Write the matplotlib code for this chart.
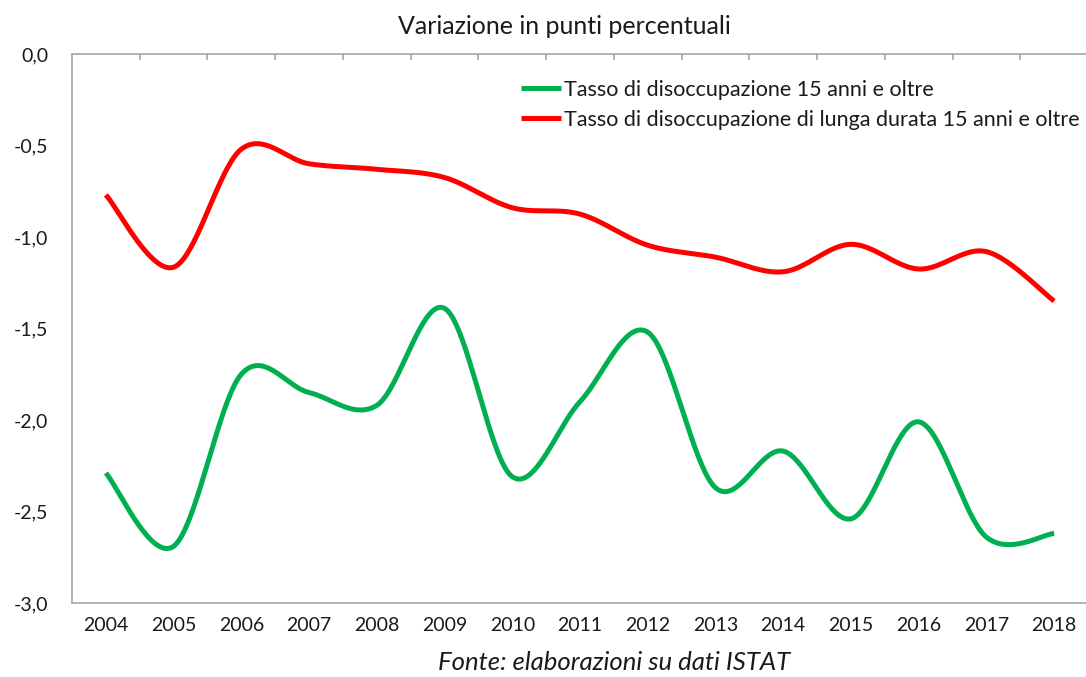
import numpy as np
import matplotlib
matplotlib.use("Agg")
import matplotlib.pyplot as plt
from matplotlib.ticker import FuncFormatter, FixedLocator

years = [2004, 2005, 2006, 2007, 2008, 2009, 2010, 2011, 2012, 2013, 2014, 2015, 2016, 2017, 2018]
tasso_disocc = [-2.29, -2.69, -1.75, -1.85, -1.92, -1.39, -2.31, -1.90, -1.52, -2.37, -2.17, -2.54, -2.01, -2.64, -2.62]
tasso_lunga = [-0.77, -1.165, -0.52, -0.60, -0.63, -0.675, -0.84, -0.875, -1.045, -1.11, -1.19, -1.04, -1.175, -1.08, -1.35]
labels = ["Tasso di disoccupazione 15 anni e oltre",
          "Tasso di disoccupazione di lunga durata 15 anni e oltre"]
title = "Variazione in punti percentuali"
source = "Fonte: elaborazioni su dati ISTAT"

FONT = ["Lato", "DejaVu Sans"]
plt.rcParams['font.family'] = FONT
TXT = "#1a1a1a"


def smooth(x, y, n=40):
    """Excel-like smoothed line (cubic Bezier through each point)."""
    x = np.asarray(x, float)
    y = np.asarray(y, float)
    px = np.concatenate([[x[0]], x, [x[-1]]])
    py = np.concatenate([[y[0]], y, [y[-1]]])
    xs, ys = [], []
    t = np.linspace(0, 1, n)[:, None]
    for i in range(1, len(px) - 2):
        p0 = np.array([px[i], py[i]])
        p3 = np.array([px[i + 1], py[i + 1]])
        p1 = p0 + (np.array([px[i + 1], py[i + 1]]) - np.array([px[i - 1], py[i - 1]])) / 6
        p2 = p3 - (np.array([px[i + 2], py[i + 2]]) - np.array([px[i], py[i]])) / 6
        b = ((1 - t) ** 3) * p0 + 3 * ((1 - t) ** 2) * t * p1 + 3 * (1 - t) * t ** 2 * p2 + t ** 3 * p3
        xs.append(b[:, 0])
        ys.append(b[:, 1])
    return np.concatenate(xs), np.concatenate(ys)


W, H = 1086, 677
fig = plt.figure(figsize=(W / 100, H / 100), dpi=100)
ax = fig.add_axes([72 / W, 74 / H, (1088 - 72) / W, (603 - 54) / H])

gx, gy = smooth(years, tasso_disocc)
rx, ry = smooth(years, tasso_lunga)
ax.plot(gx, gy, color="#00B050", lw=3.6, solid_capstyle="butt", label=labels[0])
ax.plot(rx, ry, color="#FF0000", lw=3.6, solid_capstyle="butt", label=labels[1])

ax.set_xlim(years[0] - 0.5, years[-1] + 0.5)
ax.set_ylim(-3.0, 0.0)

ax.spines["right"].set_visible(False)
for s in ["left", "bottom", "top"]:
    ax.spines[s].set_color("#a6a6a6")
    ax.spines[s].set_linewidth(1.2)

ax.set_yticks(np.arange(-3.0, 0.01, 0.5))
ax.yaxis.set_major_formatter(FuncFormatter(lambda v, p: f"{v:.1f}".replace(".", ",").replace("-0,0", "0,0")))
ax.tick_params(axis="y", length=0, pad=17, labelsize=14, labelcolor=TXT)

ax.set_xticks(years)
ax.set_xticklabels([str(y) for y in years])
ax.tick_params(axis="x", which="major", length=0, pad=10, labelsize=14, labelcolor=TXT)
# category boundary tick marks on the top axis line
ax.xaxis.set_minor_locator(FixedLocator([y + 0.5 for y in years[:-1]]))
ax.tick_params(axis="x", which="minor", top=True, bottom=False, direction="in", length=4,
               color="#a6a6a6", width=1.2)

leg = fig.legend(loc="upper right", bbox_to_anchor=(1080 / W, 1 - 80 / H), bbox_transform=fig.transFigure,
                 frameon=False, fontsize=15.5, handlelength=1.85, handletextpad=0.15,
                 labelspacing=0.45, borderaxespad=0.0, borderpad=0.0)
for t in leg.get_texts():
    t.set_color(TXT)

fig.text(564 / W, 1 - 26 / H, title, ha="center", va="center", fontsize=18, color=TXT)
fig.text(614 / W, 1 - 663 / H, source, ha="center", va="center", fontsize=18.5, color=TXT,
         style="italic")

fig.savefig("out.png", dpi=100)
